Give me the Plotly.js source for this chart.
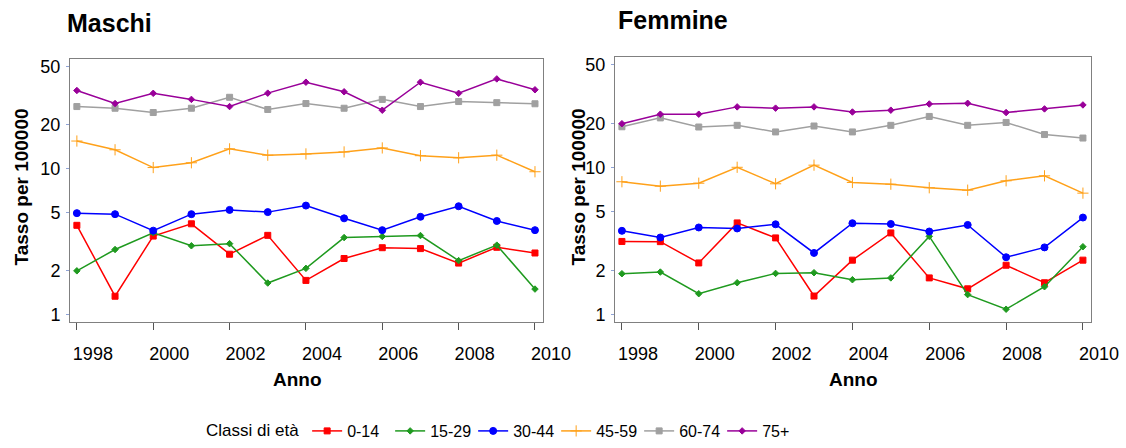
<!DOCTYPE html>
<html>
<head>
<meta charset="utf-8">
<title>Tasso per 100000 - Maschi / Femmine</title>
<script src="https://cdn.plot.ly/plotly-3.0.1.min.js"></script>
<style>
	html, body { margin: 0; padding: 0; background: #fff; }
	#stats { width: 1126px; height: 448px; }
</style>
</head>
<body>
<div id="stats"></div>
<script>
"use strict";

/**
 * Tassi per classe di età, 1998-2010
 */

var anni = [1998, 1999, 2000, 2001, 2002, 2003, 2004, 2005, 2006, 2007, 2008, 2009, 2010];
var classi = ["0-14", "15-29", "30-44", "45-59", "60-74", "75+"];

// Maschi
var m0_14 = [4.1, 1.34, 3.46, 4.2, 2.6, 3.5, 1.72, 2.43, 2.88, 2.84, 2.26, 2.9, 2.65];
var m15_29 = [2.0, 2.8, 3.65, 2.97, 3.07, 1.65, 2.08, 3.38, 3.44, 3.49, 2.35, 3.0, 1.5];
var m30_44 = [4.97, 4.89, 3.77, 4.89, 5.23, 5.05, 5.6, 4.58, 3.8, 4.69, 5.54, 4.39, 3.8];
var m45_59 = [15.5, 13.5, 10.2, 11.0, 13.7, 12.4, 12.65, 13.05, 13.9, 12.3, 11.9, 12.4, 9.55];
var m60_74 = [26.7, 26.0, 24.3, 26.0, 30.9, 25.5, 28.0, 26.0, 29.9, 26.7, 28.9, 28.4, 27.9];
var m75 = [34.4, 28.0, 32.9, 29.9, 26.7, 33.0, 39.2, 33.7, 25.2, 39.2, 32.9, 41.3, 34.8];

// Femmine
var f0_14 = [3.15, 3.14, 2.25, 4.21, 3.33, 1.34, 2.35, 3.6, 1.78, 1.5, 2.17, 1.65, 2.35];
var f15_29 = [1.9, 1.95, 1.39, 1.65, 1.91, 1.93, 1.73, 1.78, 3.41, 1.37, 1.09, 1.55, 2.9];
var f30_44 = [3.72, 3.35, 3.92, 3.86, 4.12, 2.63, 4.19, 4.14, 3.68, 4.08, 2.46, 2.87, 4.58];
var f45_59 = [8.02, 7.49, 7.84, 10.06, 7.77, 10.4, 7.93, 7.72, 7.3, 7.03, 8.14, 8.8, 6.71];
var f60_74 = [18.97, 21.8, 18.9, 19.4, 17.5, 19.2, 17.5, 19.4, 22.3, 19.4, 20.3, 16.8, 15.9];
var f75 = [19.9, 23.1, 23.1, 25.9, 25.4, 25.9, 23.9, 24.6, 27.1, 27.4, 23.7, 25.1, 26.7];

var yticks = [1, 2, 5, 10, 20, 50];
var xticks = [1998, 2000, 2002, 2004, 2006, 2008, 2010];

var stili = [
	{ color: "#ff0000", symbol: "square", size: 6 },
	{ color: "#1f9a1f", symbol: "diamond", size: 5 },
	{ color: "#0000ff", symbol: "circle", size: 7 },
	{ color: "#ffa11a", symbol: "cross-thin-open", size: 8 },
	{ color: "#a0a0a0", symbol: "square", size: 6 },
	{ color: "#990099", symbol: "diamond", size: 5 }
];

var FONT = "Liberation Sans, Arial, sans-serif";

function serie(values, i, xa, ya, legend) {
	let st = stili[i];
	return {
		x: anni,
		y: values,
		xaxis: xa,
		yaxis: ya,
		type: "scatter",
		mode: "lines+markers",
		name: classi[i],
		legendgroup: classi[i],
		showlegend: legend,
		line: { color: st.color, width: 1.5 },
		marker: { color: st.color, symbol: st.symbol, size: st.size, line: { color: st.color, width: 1 } }
	};
} //serie

function xaxis(domain, anchor) {
	return {
		domain: domain,
		anchor: anchor,
		range: [1997.82, 2010.21],
		tickvals: xticks,
		ticktext: xticks.map(String),
		ticks: "outside",
		ticklen: 7,
		tickwidth: 1,
		tickcolor: "#555555",
		ticklabelshift: 16,
		ticklabelstandoff: 9,
		tickfont: { family: FONT, size: 18, color: "#000" },
		showline: true,
		mirror: true,
		linecolor: "#808080",
		linewidth: 1,
		showgrid: false,
		zeroline: false,
		automargin: false,
		fixedrange: true
	};
} //xaxis

function yaxis(domain, anchor) {
	return {
		domain: domain,
		anchor: anchor,
		type: "log",
		range: [-0.047, 1.751],
		tickvals: yticks,
		ticktext: yticks.map(String),
		ticks: "outside",
		ticklen: 3,
		tickwidth: 1,
		tickcolor: "#8fa3d6",
		ticklabelstandoff: 2,
		tickfont: { family: FONT, size: 18, color: "#000" },
		showline: true,
		mirror: true,
		linecolor: "#808080",
		linewidth: 1,
		showgrid: false,
		zeroline: false,
		automargin: false,
		fixedrange: true
	};
} //yaxis

function label(text, x, y, size, angle) {
	return {
		text: "<b>" + text + "</b>",
		xref: "paper",
		yref: "paper",
		x: x / 1126,
		y: 1 - y / 448,
		xanchor: "center",
		yanchor: "middle",
		showarrow: false,
		textangle: angle || 0,
		font: { family: FONT, size: size, color: "#000" }
	};
} //label

function draw() {
	let maschi = [m0_14, m15_29, m30_44, m45_59, m60_74, m75];
	let femmine = [f0_14, f15_29, f30_44, f45_59, f60_74, f75];
	let data = [];

	for (let cntr = 0; cntr < classi.length; cntr++) {
		data.push(serie(maschi[cntr], cntr, "x", "y", true));
	}
	for (let cntr = 0; cntr < classi.length; cntr++) {
		data.push(serie(femmine[cntr], cntr, "x2", "y2", false));
	}

	let layout = {
		width: 1126,
		height: 448,
		margin: { l: 0, r: 0, t: 0, b: 0 },
		paper_bgcolor: "#ffffff",
		plot_bgcolor: "#ffffff",
		font: { family: FONT, size: 16, color: "#000" },
		xaxis: xaxis([70 / 1126, 543 / 1126], "y"),
		yaxis: yaxis([1 - 326 / 448, 1 - 60 / 448], "x"),
		xaxis2: xaxis([615 / 1126, 1091 / 1126], "y2"),
		yaxis2: yaxis([1 - 326 / 448, 1 - 58 / 448], "x2"),
		annotations: [
			label("Maschi", 109, 23, 25),
			label("Femmine", 673, 20, 25),
			label("Tasso per 100000", 21, 190, 19, -90),
			label("Tasso per 100000", 578, 190, 19, -90),
			label("Anno", 297, 385, 19),
			label("Anno", 853, 385, 19)
		],
		legend: {
			orientation: "h",
			x: 505 / 1126,
			xanchor: "center",
			y: 1 - 437 / 448,
			yanchor: "middle",
			bgcolor: "rgba(0,0,0,0)",
			font: { family: FONT, size: 16, color: "#000" },
			title: { text: "Classi di età", side: "left", font: { family: FONT, size: 17, color: "#000" } },
			itemwidth: 30,
			entrywidth: 38,
			tracegroupgap: 0
		},
		showlegend: true
	};

	return Plotly.newPlot("stats", data, layout, { displayModeBar: false, staticPlot: true });
} //draw

window.addEventListener("DOMContentLoaded", draw);
</script>
</body>
</html>
